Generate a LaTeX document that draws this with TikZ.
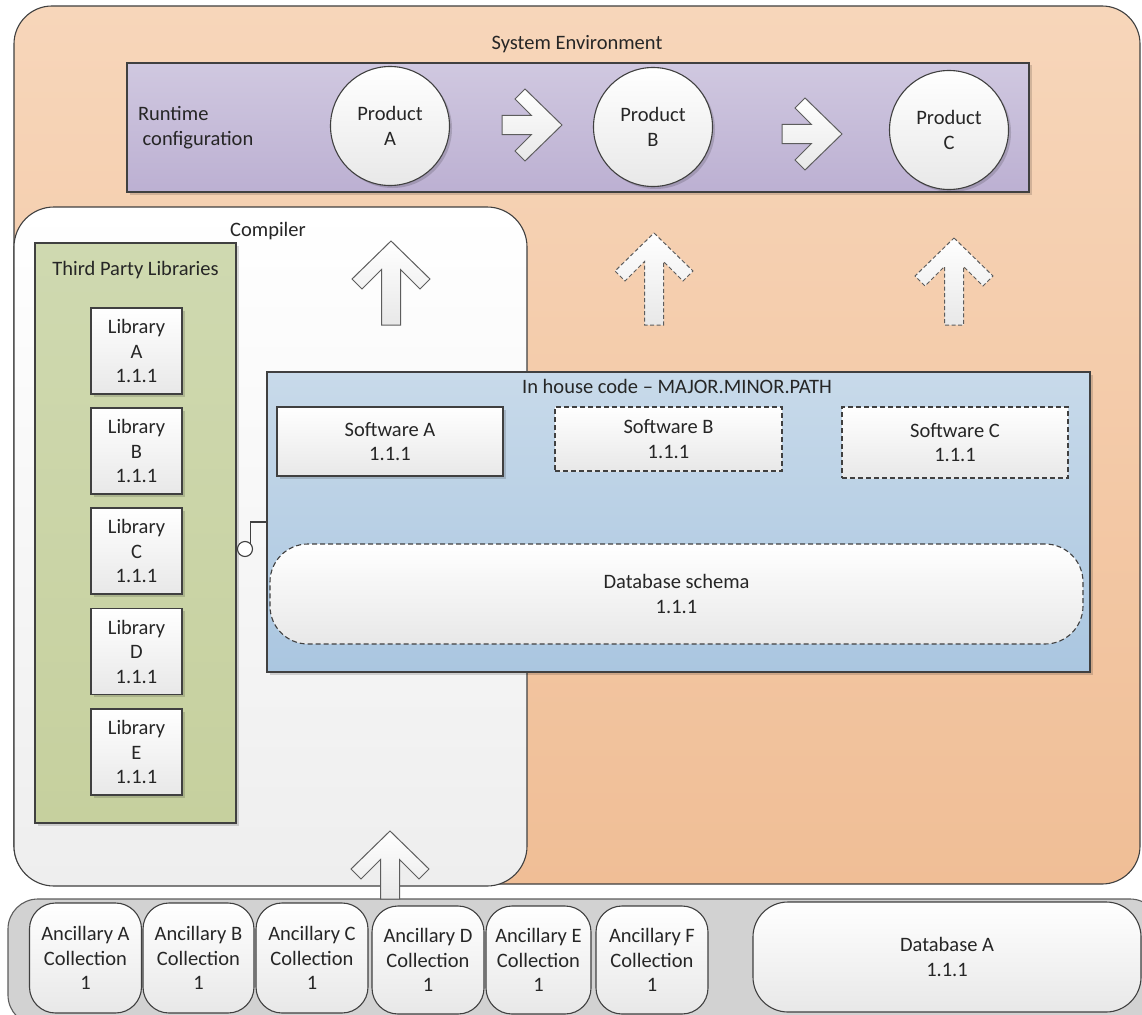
\documentclass[tikz,border=0pt]{standalone}
\usepackage{fontspec}
\setmainfont{Carlito}
\usetikzlibrary{shadows}
\definecolor{orT}{HTML}{F7D6BA}
\definecolor{orB}{HTML}{F0BE96}
\definecolor{puT}{HTML}{D0C8E0}
\definecolor{puB}{HTML}{BCB0D2}
\definecolor{grT}{HTML}{CFD9B0}
\definecolor{grB}{HTML}{C6D09E}
\definecolor{blT}{HTML}{C8DAEA}
\definecolor{blB}{HTML}{AAC6E0}
\definecolor{cmB}{HTML}{EEEEEE}
\definecolor{wB}{HTML}{E8E8E8}
\definecolor{grayc}{HTML}{D2D2D2}
\definecolor{edge}{HTML}{404040}
\definecolor{txt}{HTML}{262626}
\newcommand\UpArr[4]{\draw[#4,shift={(#1,#2)}] (0,0) -- (39,38) -- (29,48) -- (9.5,28.5) -- (9.5,#3) -- (-9.5,#3) -- (-9.5,28.5) -- (-29,48) -- (-39,38) -- cycle;}
\newcommand\RtArr[4]{\draw[#4,shift={(#1,#2)}] (0,0) -- (-37,-36) -- (-47,-26) -- (-30.5,-9.5) -- (-#3,-9.5) -- (-#3,9.5) -- (-30.5,9.5) -- (-47,26) -- (-37,36) -- cycle;}
\begin{document}
\begin{tikzpicture}[x=1pt,y=-1pt,
  every node/.style={font=\fontsize{20.5}{24.5}\selectfont, text=txt, inner sep=0pt, outer sep=0pt},
  shp/.style={draw=edge, line width=1.1pt},
  sh/.style={drop shadow={shadow xshift=2.5pt,shadow yshift=-2.5pt,opacity=0.15,fill=black}},
  wbox/.style={shp, rectangle, top color=white, bottom color=wB, align=center},
  dbox/.style={wbox, dash pattern=on 5pt off 3pt},
  prod/.style={shp, circle, minimum size=119pt, top color=white, bottom color=wB, align=center},
  libbox/.style={wbox, sh, minimum width=91pt, minimum height=86pt},
  anc/.style={shp, rectangle, rounded corners=26pt, top color=white, bottom color=wB, align=center},
  solidarr/.style={draw=edge!85, line width=1pt, top color=white, bottom color=wB, line join=miter},
  dasharr/.style={solidarr, dash pattern=on 4pt off 2.5pt},
  conn/.style={draw=edge, line width=1.1pt}
]
\useasboundingbox (0,0) rectangle (1142,1014);
\clip (0,0) rectangle (1142,1014);
\fill[white] (0,0) rectangle (1142,1014);

% System environment
\node[shp, rectangle, rounded corners=38pt, top color=orT, bottom color=orB, minimum width=1126pt, minimum height=878pt] (sysenv) at (577,445) {};
\node (sysenvt) at (577,44) {System Environment};

% Runtime configuration
\node[shp, sh, rectangle, top color=puT, bottom color=puB, minimum width=902pt, minimum height=129pt] (runtime) at (578,127.5) {};
\node[anchor=west, align=left] (rtlabel) at (138,127.5) {Runtime\\\hspace*{4.7pt}configuration};
\node[prod, sh] (pa) at (390,126) {Product\\A};
\node[prod, sh] (pb) at (653,127) {Product\\B};
\node[prod, sh] (pc) at (949,130) {Product\\C};
\RtArr{562}{125}{60}{solidarr}
\RtArr{842}{134}{60}{solidarr}

% Compiler
\node[shp, rectangle, rounded corners=40pt, top color=white, bottom color=cmB, minimum width=513pt, minimum height=679pt] (compiler) at (270.5,546.5) {};
\node (compilert) at (268,231) {Compiler};

% Third party libraries
\node[shp, sh, rectangle, top color=grT, bottom color=grB, minimum width=201pt, minimum height=580pt] (tpl) at (135.5,533) {};
\node (tplt) at (135.5,270) {Third Party Libraries};
\node[libbox] (liba) at (136.5,351) {Library\\A\\1.1.1};
\node[libbox] (libb) at (136.5,451) {Library\\B\\1.1.1};
\node[libbox] (libc) at (136.5,551) {Library\\C\\1.1.1};
\node[libbox] (libd) at (136.5,651.5) {Library\\D\\1.1.1};
\node[libbox] (libe) at (136.5,752) {Library\\E\\1.1.1};

% Up arrows
\UpArr{391}{241}{84}{solidarr}
\UpArr{654}{233}{92}{dasharr}
\UpArr{954}{238}{87}{dasharr}

% In house code
\node[shp, sh, rectangle, top color=blT, bottom color=blB, minimum width=823pt, minimum height=300pt] (inhouse) at (678.5,522) {};
\node (inhouset) at (677,386) {In house code – MAJOR.MINOR.PATH};
\node[wbox, sh, minimum width=226pt, minimum height=69pt] (swa) at (390,441.5) {Software A\\1.1.1};
\node[dbox, minimum width=227pt, minimum height=64pt] (swb) at (668.5,439) {Software B\\1.1.1};
\node[dbox, minimum width=226pt, minimum height=71pt] (swc) at (955,442.5) {Software C\\1.1.1};
\node[dbox, rounded corners=38pt, minimum width=813pt, minimum height=100pt] (schema) at (676.5,594) {Database schema\\1.1.1};

% Lollipop interface
\node[shp, circle, fill=white, minimum size=15pt] (lolli) at (245,549) {};
\draw[conn] (inhouse.west) -| (lolli.45);

% Bottom container
\node[draw=edge!85, line width=1.1pt, rectangle, rounded corners=30pt, fill=grayc, minimum width=1152pt, minimum height=126pt] (bottom) at (584,962) {};
\node[anc, minimum width=112pt, minimum height=110pt] (anca) at (85.5,958) {Ancillary A\\Collection\\1};
\node[anc, minimum width=111pt, minimum height=110pt] (ancb) at (198.5,958) {Ancillary B\\Collection\\1};
\node[anc, minimum width=112pt, minimum height=110pt] (ancc) at (312,958) {Ancillary C\\Collection\\1};
\node[anc, minimum width=112pt, minimum height=108pt] (ancd) at (428,960) {Ancillary D\\Collection\\1};
\node[anc, minimum width=105pt, minimum height=108pt] (ance) at (538.5,960) {Ancillary E\\Collection\\1};
\node[anc, minimum width=112pt, minimum height=108pt] (ancf) at (652,960) {Ancillary F\\Collection\\1};
\node[anc, rounded corners=35pt, minimum width=388pt, minimum height=110pt] (dba) at (947,957) {Database A\\1.1.1};

% Arrow from ancillary collections into the compiler
\UpArr{390}{831}{68}{solidarr}
\end{tikzpicture}
\end{document}
